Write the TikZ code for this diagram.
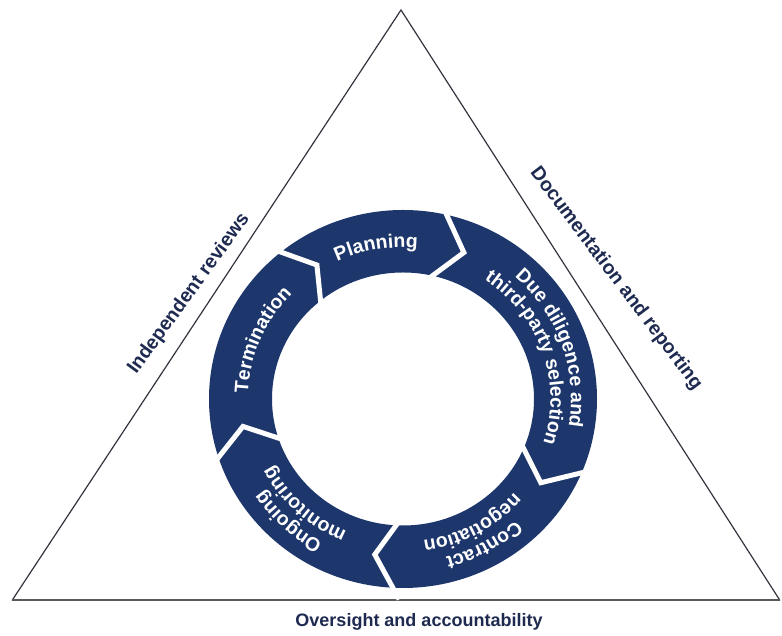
\documentclass[tikz,border=0pt]{standalone}
\usepackage{fontspec}
\setmainfont{Liberation Sans}
\usetikzlibrary{decorations.text,calc}
\definecolor{ringblue}{RGB}{29,55,108}
\definecolor{labelblue}{RGB}{30,42,80}
\definecolor{triline}{RGB}{50,52,62}
\newcommand\segfont{\bfseries\fontsize{19.5}{22}\selectfont\color{white}}
\tikzset{
  sidelabel/.style={font=\bfseries\fontsize{19.5}{22}\selectfont, text=labelblue, inner sep=0pt},
  baselabel/.style={font=\bfseries\fontsize{18}{21}\selectfont, text=labelblue, inner sep=0pt},
  gapline/.style={white, line width=5pt, line join=miter},
  triside/.style={draw=triline, line width=1.2pt},
  tribase/.style={draw=black!65, line width=2pt},
  ringtext/.style={decorate, decoration={text along path, text align=center, text={#1}}}
}
\begin{document}
\begin{tikzpicture}[x=1pt,y=1pt]
\useasboundingbox (0,0) rectangle (782,636);
% triangle
\coordinate (L) at (12,35.5);
\coordinate (A) at (401,626);
\coordinate (R) at (780,35.5);
\draw[triside] (R) -- (A) -- (L);
\draw[tribase] (L) -- (R);
% ring
\coordinate (C) at (403,237);
\fill[ringblue, even odd rule] (C) ellipse[x radius=194pt, y radius=189pt]
                               (C) ellipse[x radius=131pt, y radius=126.5pt];
\foreach \cang/\tang [count=\i] in {129/122, 77/68, -23/-32, -93/-100, 198/190} {
  \coordinate (o\i) at ($(C)+(\cang:194pt and 189pt)$);
  \coordinate (m\i) at ($(C)+(\tang:162.5pt and 158pt)$);
  \coordinate (n\i) at ($(C)+(\cang:131pt and 126.5pt)$);
  \draw[gapline] ($(m\i)!1.35!(o\i)$) -- (m\i) -- ($(m\i)!1.35!(n\i)$);
}
% ring labels
\path[ringtext={|\segfont|Planning}]
  ($(C)+(160:156pt and 151.5pt)$) arc[start angle=160, end angle=40, x radius=156pt, y radius=151.5pt];
\path[ringtext={|\segfont|Termination}]
  ($(C)+(217:155pt and 150.5pt)$) arc[start angle=217, end angle=97, x radius=155pt, y radius=150.5pt];
\path[ringtext={|\segfont|Due diligence and}]
  ($(C)+(89:168pt and 163.5pt)$) arc[start angle=89, end angle=-51, x radius=168pt, y radius=163.5pt];
\path[ringtext={|\segfont|third-party selection}]
  ($(C)+(89:147.5pt and 143pt)$) arc[start angle=89, end angle=-51, x radius=147.5pt, y radius=143pt];
\path[ringtext={|\segfont|Contract}]
  ($(C)+(9:168pt and 163.5pt)$) arc[start angle=9, end angle=-131, x radius=168pt, y radius=163.5pt];
\path[ringtext={|\segfont|negotiation}]
  ($(C)+(9:147.5pt and 143pt)$) arc[start angle=9, end angle=-131, x radius=147.5pt, y radius=143pt];
\path[ringtext={|\segfont|Ongoing}]
  ($(C)+(297:168pt and 163.5pt)$) arc[start angle=297, end angle=157, x radius=168pt, y radius=163.5pt];
\path[ringtext={|\segfont|monitoring}]
  ($(C)+(297:147.5pt and 143pt)$) arc[start angle=297, end angle=157, x radius=147.5pt, y radius=143pt];
% side labels
\node[sidelabel, rotate=54] (indep) at (189,342) {Independent reviews};
\node[sidelabel, rotate=-53] (docu) at (616,357) {Documentation and reporting};
\node[baselabel, anchor=base] (oversight) at (419,9) {Oversight and accountability};
\end{tikzpicture}
\end{document}
